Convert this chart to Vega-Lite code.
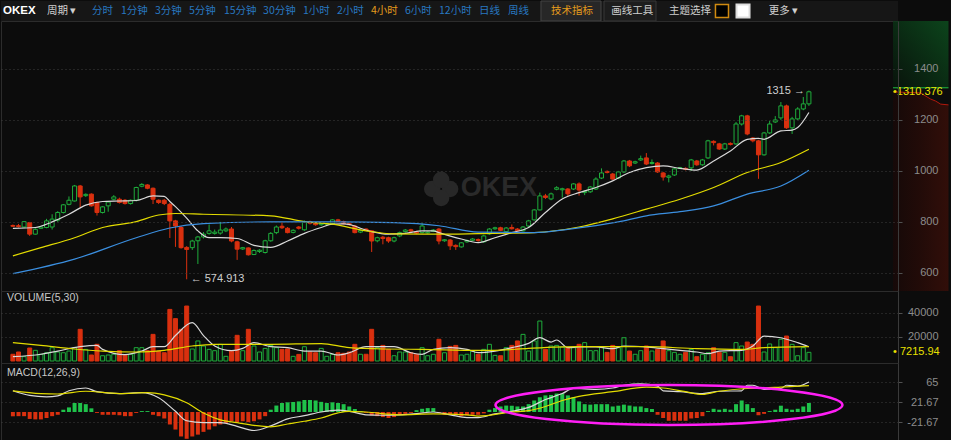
{
"$schema":"https://vega.github.io/schema/vega-lite/v6.json",
"background":"#0c0c0c",
"padding":0,
"spacing":0,
"bounds":"flush",
"config":{
 "view":{"stroke":"#2c2c2c"},
 "axisY":{"labelAlign":"right","labelPadding":36,"tickSize":4,"tickColor":"#505050","domainColor":"#3a3a3a","labelColor":"#8c8c8c","labelFontSize":11,"labelFont":"Liberation Sans","grid":true,"gridColor":"#3e3e3e","gridDash":[1,3],"labelBaseline":"middle"},
 "text":{"font":"Liberation Sans"},
 "line":{"strokeWidth":1.2,"interpolate":"monotone"}
},
"datasets":{
"k":[
{"i":0,"o":786,"h":790,"l":780,"c":783,"v":5600,"m":-9.3},
{"i":1,"o":785,"h":792,"l":778,"c":782,"v":7500,"m":-9},
{"i":2,"o":780,"h":803,"l":778,"c":801,"v":3600,"m":-9},
{"i":3,"o":797,"h":800,"l":745,"c":752,"v":10800,"m":-15},
{"i":4,"o":752,"h":775,"l":750,"c":771,"v":8900,"m":-16},
{"i":5,"o":775,"h":784,"l":772,"c":780,"v":5600,"m":-16},
{"i":6,"o":778,"h":812,"l":775,"c":804,"v":6900,"m":-13},
{"i":7,"o":780,"h":830,"l":770,"c":811,"v":11100,"m":-9},
{"i":8,"o":807,"h":842,"l":800,"c":837,"v":7500,"m":-6},
{"i":9,"o":837,"h":870,"l":833,"c":867,"v":6900,"m":5},
{"i":10,"o":869,"h":900,"l":865,"c":885,"v":8300,"m":10},
{"i":11,"o":882,"h":945,"l":880,"c":941,"v":11100,"m":19.5},
{"i":12,"o":941,"h":945,"l":857,"c":898,"v":26400,"m":19.5},
{"i":13,"o":903,"h":912,"l":898,"c":908,"v":9700,"m":17},
{"i":14,"o":909,"h":912,"l":860,"c":863,"v":5000,"m":8},
{"i":15,"o":876,"h":880,"l":825,"c":837,"v":13900,"m":-2},
{"i":16,"o":837,"h":862,"l":833,"c":859,"v":4400,"m":-6},
{"i":17,"o":863,"h":882,"l":840,"c":878,"v":5000,"m":-6},
{"i":18,"o":889,"h":905,"l":885,"c":898,"v":5600,"m":-6},
{"i":19,"o":889,"h":895,"l":872,"c":876,"v":8600,"m":-7},
{"i":20,"o":885,"h":890,"l":868,"c":872,"v":5000,"m":-9},
{"i":21,"o":872,"h":888,"l":868,"c":885,"v":5600,"m":-9},
{"i":22,"o":885,"h":938,"l":880,"c":935,"v":11100,"m":-2},
{"i":23,"o":940,"h":952,"l":936,"c":947,"v":11100,"m":2},
{"i":24,"o":945,"h":948,"l":928,"c":932,"v":8600,"m":2},
{"i":25,"o":932,"h":935,"l":870,"c":889,"v":22200,"m":-6},
{"i":26,"o":885,"h":888,"l":870,"c":876,"v":8300,"m":-9},
{"i":27,"o":885,"h":890,"l":866,"c":872,"v":6900,"m":-14},
{"i":28,"o":869,"h":875,"l":737,"c":804,"v":43000,"m":-27},
{"i":29,"o":804,"h":808,"l":702,"c":784,"v":35300,"m":-38},
{"i":30,"o":778,"h":784,"l":695,"c":699,"v":26400,"m":-53},
{"i":31,"o":700,"h":705,"l":574.913,"c":692,"v":45800,"m":-58},
{"i":32,"o":699,"h":730,"l":690,"c":725,"v":10000,"m":-53},
{"i":33,"o":726,"h":745,"l":635,"c":741,"v":16700,"m":-49},
{"i":34,"o":741,"h":760,"l":735,"c":752,"v":12500,"m":-43},
{"i":35,"o":755,"h":790,"l":750,"c":765,"v":9700,"m":-38},
{"i":36,"o":755,"h":770,"l":750,"c":760,"v":8600,"m":-31},
{"i":37,"o":756,"h":800,"l":750,"c":768,"v":13900,"m":-27},
{"i":38,"o":765,"h":778,"l":760,"c":772,"v":3900,"m":-24},
{"i":39,"o":772,"h":780,"l":720,"c":725,"v":8300,"m":-20},
{"i":40,"o":722,"h":726,"l":651,"c":693,"v":21400,"m":-22},
{"i":41,"o":694,"h":702,"l":690,"c":699,"v":8600,"m":-20},
{"i":42,"o":698,"h":700,"l":668,"c":671,"v":26400,"m":-22},
{"i":43,"o":672,"h":692,"l":670,"c":688,"v":12500,"m":-20},
{"i":44,"o":684,"h":693,"l":678,"c":689,"v":7500,"m":-16},
{"i":45,"o":680,"h":730,"l":676,"c":726,"v":10500,"m":-9},
{"i":46,"o":726,"h":760,"l":722,"c":755,"v":13000,"m":5},
{"i":47,"o":758,"h":786,"l":752,"c":780,"v":11100,"m":14},
{"i":48,"o":783,"h":800,"l":772,"c":777,"v":9700,"m":19.5},
{"i":49,"o":775,"h":780,"l":755,"c":758,"v":10000,"m":21},
{"i":50,"o":759,"h":771,"l":755,"c":767,"v":3900,"m":21.7},
{"i":51,"o":780,"h":784,"l":770,"c":775,"v":5500,"m":23},
{"i":52,"o":769,"h":806,"l":765,"c":801,"v":11900,"m":26},
{"i":53,"o":800,"h":805,"l":790,"c":795,"v":7500,"m":26},
{"i":54,"o":794,"h":797,"l":785,"c":789,"v":6900,"m":25},
{"i":55,"o":789,"h":797,"l":785,"c":793,"v":10500,"m":22},
{"i":56,"o":791,"h":797,"l":788,"c":794,"v":3900,"m":19.5},
{"i":57,"o":793,"h":811,"l":790,"c":808,"v":5600,"m":21},
{"i":58,"o":808,"h":812,"l":800,"c":803,"v":6900,"m":19.5},
{"i":59,"o":801,"h":805,"l":790,"c":793,"v":6400,"m":17},
{"i":60,"o":793,"h":796,"l":786,"c":789,"v":7500,"m":12},
{"i":61,"o":784,"h":788,"l":755,"c":758,"v":13900,"m":6.5},
{"i":62,"o":760,"h":770,"l":756,"c":766,"v":5600,"m":2},
{"i":63,"o":772,"h":775,"l":765,"c":768,"v":5600,"m":-2},
{"i":64,"o":765,"h":768,"l":682,"c":725,"v":26400,"m":-7},
{"i":65,"o":726,"h":742,"l":720,"c":738,"v":11100,"m":-9},
{"i":66,"o":740,"h":745,"l":712,"c":735,"v":13000,"m":-11},
{"i":67,"o":738,"h":742,"l":718,"c":725,"v":9700,"m":-13},
{"i":68,"o":725,"h":742,"l":720,"c":738,"v":4400,"m":-11},
{"i":69,"o":745,"h":762,"l":740,"c":758,"v":7500,"m":-6},
{"i":70,"o":762,"h":772,"l":758,"c":768,"v":7500,"m":-4},
{"i":71,"o":769,"h":773,"l":760,"c":764,"v":6900,"m":-2},
{"i":72,"o":761,"h":765,"l":752,"c":756,"v":5600,"m":4},
{"i":73,"o":758,"h":795,"l":755,"c":784,"v":11100,"m":7},
{"i":74,"o":757,"h":763,"l":754,"c":760,"v":4400,"m":8.5},
{"i":75,"o":763,"h":772,"l":760,"c":768,"v":5600,"m":8.5},
{"i":76,"o":772,"h":776,"l":712,"c":725,"v":18100,"m":-2},
{"i":77,"o":726,"h":733,"l":722,"c":730,"v":6900,"m":-6},
{"i":78,"o":729,"h":733,"l":690,"c":706,"v":12200,"m":-6},
{"i":79,"o":708,"h":712,"l":690,"c":703,"v":13000,"m":-7},
{"i":80,"o":702,"h":721,"l":699,"c":718,"v":5000,"m":-9},
{"i":81,"o":722,"h":731,"l":718,"c":727,"v":5600,"m":-7},
{"i":82,"o":728,"h":737,"l":725,"c":733,"v":8300,"m":-6},
{"i":83,"o":731,"h":735,"l":722,"c":727,"v":5600,"m":-6},
{"i":84,"o":722,"h":750,"l":718,"c":745,"v":9700,"m":-3},
{"i":85,"o":753,"h":776,"l":749,"c":772,"v":13900,"m":5},
{"i":86,"o":773,"h":781,"l":769,"c":777,"v":4700,"m":8.5},
{"i":87,"o":777,"h":781,"l":764,"c":767,"v":4400,"m":12},
{"i":88,"o":762,"h":780,"l":755,"c":776,"v":11100,"m":14},
{"i":89,"o":778,"h":790,"l":770,"c":773,"v":13000,"m":13.7},
{"i":90,"o":772,"h":776,"l":762,"c":765,"v":16700,"m":12},
{"i":91,"o":765,"h":784,"l":762,"c":780,"v":22200,"m":12},
{"i":92,"o":784,"h":808,"l":780,"c":804,"v":8300,"m":17},
{"i":93,"o":808,"h":850,"l":805,"c":847,"v":16700,"m":25},
{"i":94,"o":847,"h":915,"l":845,"c":902,"v":33300,"m":32},
{"i":95,"o":902,"h":910,"l":890,"c":896,"v":9700,"m":36},
{"i":96,"o":890,"h":915,"l":885,"c":910,"v":12500,"m":37},
{"i":97,"o":928,"h":940,"l":924,"c":934,"v":13000,"m":40},
{"i":98,"o":926,"h":934,"l":895,"c":930,"v":11700,"m":40},
{"i":99,"o":929,"h":933,"l":900,"c":910,"v":11100,"m":36},
{"i":100,"o":929,"h":952,"l":925,"c":949,"v":11100,"m":32},
{"i":101,"o":949,"h":955,"l":903,"c":925,"v":13900,"m":23},
{"i":102,"o":915,"h":924,"l":905,"c":920,"v":15300,"m":17},
{"i":103,"o":918,"h":941,"l":914,"c":937,"v":8600,"m":16},
{"i":104,"o":929,"h":975,"l":925,"c":968,"v":8600,"m":17},
{"i":105,"o":972,"h":1010,"l":968,"c":992,"v":11400,"m":17},
{"i":106,"o":998,"h":1002,"l":990,"c":994,"v":7200,"m":17},
{"i":107,"o":988,"h":992,"l":965,"c":968,"v":13000,"m":12},
{"i":108,"o":972,"h":1000,"l":968,"c":996,"v":11100,"m":13.7},
{"i":109,"o":996,"h":1043,"l":992,"c":1039,"v":19400,"m":16},
{"i":110,"o":1039,"h":1043,"l":1015,"c":1020,"v":8300,"m":14},
{"i":111,"o":1031,"h":1040,"l":1027,"c":1036,"v":5600,"m":12},
{"i":112,"o":1043,"h":1060,"l":1039,"c":1048,"v":8600,"m":12},
{"i":113,"o":1051,"h":1070,"l":1023,"c":1027,"v":12500,"m":8.5},
{"i":114,"o":1029,"h":1045,"l":1025,"c":1033,"v":8300,"m":6.5},
{"i":115,"o":1031,"h":1035,"l":992,"c":996,"v":9700,"m":-6},
{"i":116,"o":992,"h":996,"l":962,"c":976,"v":16700,"m":-13},
{"i":117,"o":975,"h":985,"l":955,"c":980,"v":8600,"m":-19},
{"i":118,"o":984,"h":1012,"l":980,"c":1008,"v":7200,"m":-19},
{"i":119,"o":1010,"h":1016,"l":1007,"c":1013,"v":5600,"m":-19},
{"i":120,"o":1010,"h":1014,"l":1002,"c":1006,"v":7200,"m":-19},
{"i":121,"o":1012,"h":1047,"l":1000,"c":1043,"v":9700,"m":-14},
{"i":122,"o":1039,"h":1043,"l":1020,"c":1024,"v":3600,"m":-13},
{"i":123,"o":1024,"h":1047,"l":1020,"c":1043,"v":5600,"m":-9},
{"i":124,"o":1051,"h":1122,"l":1047,"c":1118,"v":6900,"m":2},
{"i":125,"o":1116,"h":1120,"l":1100,"c":1111,"v":11100,"m":7},
{"i":126,"o":1106,"h":1110,"l":1082,"c":1086,"v":7200,"m":5},
{"i":127,"o":1086,"h":1110,"l":1082,"c":1106,"v":7200,"m":7},
{"i":128,"o":1108,"h":1112,"l":1100,"c":1104,"v":3600,"m":5},
{"i":129,"o":1106,"h":1192,"l":1102,"c":1184,"v":15300,"m":17},
{"i":130,"o":1184,"h":1220,"l":1178,"c":1216,"v":12500,"m":25},
{"i":131,"o":1216,"h":1220,"l":1140,"c":1145,"v":15800,"m":17},
{"i":132,"o":1129,"h":1133,"l":1112,"c":1118,"v":13900,"m":8.5},
{"i":133,"o":1118,"h":1122,"l":969,"c":1063,"v":45800,"m":-7},
{"i":134,"o":1063,"h":1153,"l":1060,"c":1149,"v":7500,"m":-4},
{"i":135,"o":1149,"h":1196,"l":1145,"c":1184,"v":14200,"m":2},
{"i":136,"o":1192,"h":1215,"l":1188,"c":1200,"v":11100,"m":5},
{"i":137,"o":1208,"h":1270,"l":1200,"c":1255,"v":18100,"m":13.7},
{"i":138,"o":1255,"h":1260,"l":1165,"c":1169,"v":20800,"m":7},
{"i":139,"o":1169,"h":1212,"l":1145,"c":1204,"v":13900,"m":5},
{"i":140,"o":1204,"h":1250,"l":1200,"c":1243,"v":4400,"m":7},
{"i":141,"o":1243,"h":1290,"l":1238,"c":1263,"v":11100,"m":12},
{"i":142,"o":1263,"h":1315,"l":1255,"c":1310.376,"v":7215.94,"m":19.5}
],
"ma":[
{"i":0,"s":"w","p":775},{"i":4,"s":"w","p":778},{"i":7,"s":"w","p":800},{"i":10,"s":"w","p":830},{"i":13,"s":"w","p":866},{"i":16,"s":"w","p":880},{"i":19,"s":"w","p":882},{"i":22,"s":"w","p":884},{"i":25,"s":"w","p":902},{"i":27,"s":"w","p":900},{"i":28,"s":"w","p":880},{"i":29,"s":"w","p":860},{"i":31,"s":"w","p":815},{"i":33,"s":"w","p":765},{"i":35,"s":"w","p":738},{"i":37,"s":"w","p":738},{"i":40,"s":"w","p":735},{"i":43,"s":"w","p":708},{"i":46,"s":"w","p":700},{"i":49,"s":"w","p":725},{"i":52,"s":"w","p":755},{"i":55,"s":"w","p":778},{"i":57,"s":"w","p":791},{"i":59,"s":"w","p":792},{"i":61,"s":"w","p":784},{"i":62,"s":"w","p":775},{"i":64,"s":"w","p":762},{"i":67,"s":"w","p":752},{"i":70,"s":"w","p":755},{"i":73,"s":"w","p":765},{"i":75,"s":"w","p":765},{"i":76,"s":"w","p":758},{"i":80,"s":"w","p":733},{"i":83,"s":"w","p":719},{"i":86,"s":"w","p":738},{"i":89,"s":"w","p":758},{"i":92,"s":"w","p":778},{"i":95,"s":"w","p":837},{"i":98,"s":"w","p":890},{"i":101,"s":"w","p":915},{"i":104,"s":"w","p":935},{"i":107,"s":"w","p":961},{"i":110,"s":"w","p":994},{"i":113,"s":"w","p":1013},{"i":116,"s":"w","p":1020},{"i":119,"s":"w","p":1010},{"i":122,"s":"w","p":1003},{"i":125,"s":"w","p":1039},{"i":128,"s":"w","p":1078},{"i":131,"s":"w","p":1124},{"i":133,"s":"w","p":1128},{"i":134,"s":"w","p":1124},{"i":137,"s":"w","p":1157},{"i":139,"s":"w","p":1160},{"i":140,"s":"w","p":1170},{"i":142,"s":"w","p":1229},
{"i":0,"s":"y","p":667},{"i":5,"s":"y","p":699},{"i":11,"s":"y","p":738},{"i":16,"s":"y","p":778},{"i":22,"s":"y","p":801},{"i":26,"s":"y","p":827},{"i":29,"s":"y","p":833},{"i":34,"s":"y","p":830},{"i":46,"s":"y","p":824},{"i":52,"s":"y","p":801},{"i":57,"s":"y","p":791},{"i":63,"s":"y","p":765},{"i":68,"s":"y","p":753},{"i":76,"s":"y","p":752},{"i":83,"s":"y","p":754},{"i":93,"s":"y","p":758},{"i":101,"s":"y","p":780},{"i":107,"s":"y","p":812},{"i":113,"s":"y","p":850},{"i":119,"s":"y","p":889},{"i":125,"s":"y","p":935},{"i":131,"s":"y","p":994},{"i":137,"s":"y","p":1033},{"i":142,"s":"y","p":1085},
{"i":0,"s":"b","p":597},{"i":11,"s":"b","p":654},{"i":22,"s":"b","p":738},{"i":28,"s":"b","p":776},{"i":34,"s":"b","p":793},{"i":46,"s":"b","p":800},{"i":57,"s":"b","p":800},{"i":68,"s":"b","p":797},{"i":76,"s":"b","p":785},{"i":83,"s":"b","p":760},{"i":93,"s":"b","p":758},{"i":99,"s":"b","p":771},{"i":108,"s":"b","p":800},{"i":113,"s":"b","p":824},{"i":119,"s":"b","p":840},{"i":125,"s":"b","p":863},{"i":131,"s":"b","p":909},{"i":137,"s":"b","p":941},{"i":142,"s":"b","p":1003}
],
"vma":[
{"i":0,"s":"w","v":3600},{"i":5,"s":"w","v":5600},{"i":8,"s":"w","v":8300},{"i":12,"s":"w","v":11900},{"i":15,"s":"w","v":13000},{"i":16,"s":"w","v":9700},{"i":20,"s":"w","v":5300},{"i":23,"s":"w","v":8300},{"i":25,"s":"w","v":11900},{"i":27,"s":"w","v":11900},{"i":29,"s":"w","v":21200},{"i":32,"s":"w","v":31900},{"i":34,"s":"w","v":21200},{"i":36,"s":"w","v":12500},{"i":39,"s":"w","v":8600},{"i":41,"s":"w","v":10500},{"i":43,"s":"w","v":15300},{"i":46,"s":"w","v":11900},{"i":49,"s":"w","v":11100},{"i":52,"s":"w","v":8300},{"i":55,"s":"w","v":8300},{"i":58,"s":"w","v":5000},{"i":60,"s":"w","v":6900},{"i":63,"s":"w","v":11900},{"i":68,"s":"w","v":11900},{"i":71,"s":"w","v":6900},{"i":73,"s":"w","v":5600},{"i":75,"s":"w","v":9700},{"i":78,"s":"w","v":11100},{"i":81,"s":"w","v":9700},{"i":83,"s":"w","v":6900},{"i":86,"s":"w","v":8300},{"i":89,"s":"w","v":11100},{"i":92,"s":"w","v":14700},{"i":94,"s":"w","v":19400},{"i":96,"s":"w","v":15800},{"i":97,"s":"w","v":17500},{"i":99,"s":"w","v":11100},{"i":101,"s":"w","v":11700},{"i":104,"s":"w","v":11700},{"i":107,"s":"w","v":10300},{"i":109,"s":"w","v":12500},{"i":113,"s":"w","v":11700},{"i":116,"s":"w","v":10300},{"i":119,"s":"w","v":8900},{"i":122,"s":"w","v":7500},{"i":124,"s":"w","v":6100},{"i":126,"s":"w","v":8300},{"i":130,"s":"w","v":8900},{"i":132,"s":"w","v":12500},{"i":134,"s":"w","v":20800},{"i":137,"s":"w","v":19400},{"i":140,"s":"w","v":15300},{"i":142,"s":"w","v":11900},
{"i":0,"s":"y","v":15300},{"i":5,"s":"y","v":13000},{"i":11,"s":"y","v":10000},{"i":16,"s":"y","v":8300},{"i":22,"s":"y","v":7500},{"i":27,"s":"y","v":8900},{"i":32,"s":"y","v":12500},{"i":36,"s":"y","v":13900},{"i":46,"s":"y","v":13900},{"i":55,"s":"y","v":14500},{"i":60,"s":"y","v":11100},{"i":66,"s":"y","v":10000},{"i":73,"s":"y","v":9700},{"i":83,"s":"y","v":8900},{"i":86,"s":"y","v":8900},{"i":92,"s":"y","v":10500},{"i":101,"s":"y","v":11900},{"i":113,"s":"y","v":11900},{"i":122,"s":"y","v":10300},{"i":130,"s":"y","v":9700},{"i":134,"s":"y","v":11100},{"i":142,"s":"y","v":11900}
],
"md":[
{"i":0,"s":"w","v":46},{"i":3,"s":"w","v":36},{"i":6,"s":"w","v":33},{"i":8,"s":"w","v":35},{"i":10,"s":"w","v":46},{"i":13,"s":"w","v":52},{"i":15,"s":"w","v":44},{"i":19,"s":"w","v":40},{"i":23,"s":"w","v":42},{"i":26,"s":"w","v":31},{"i":29,"s":"w","v":1.5},{"i":31,"s":"w","v":-19},{"i":34,"s":"w","v":-23},{"i":37,"s":"w","v":-23},{"i":40,"s":"w","v":-31},{"i":43,"s":"w","v":-40},{"i":46,"s":"w","v":-30},{"i":49,"s":"w","v":-15},{"i":52,"s":"w","v":-8},{"i":55,"s":"w","v":0},{"i":58,"s":"w","v":4},{"i":60,"s":"w","v":1.5},{"i":63,"s":"w","v":-6},{"i":66,"s":"w","v":-7},{"i":69,"s":"w","v":-6},{"i":72,"s":"w","v":-3.6},{"i":75,"s":"w","v":0},{"i":78,"s":"w","v":-6},{"i":81,"s":"w","v":-12},{"i":83,"s":"w","v":-12},{"i":86,"s":"w","v":-4},{"i":89,"s":"w","v":1.5},{"i":92,"s":"w","v":10},{"i":95,"s":"w","v":27},{"i":98,"s":"w","v":40},{"i":100,"s":"w","v":51},{"i":104,"s":"w","v":49},{"i":107,"s":"w","v":52},{"i":109,"s":"w","v":58},{"i":112,"s":"w","v":61},{"i":115,"s":"w","v":56},{"i":116,"s":"w","v":46},{"i":119,"s":"w","v":44},{"i":123,"s":"w","v":40},{"i":126,"s":"w","v":45},{"i":130,"s":"w","v":46},{"i":131,"s":"w","v":58},{"i":132,"s":"w","v":58},{"i":134,"s":"w","v":49},{"i":137,"s":"w","v":51},{"i":138,"s":"w","v":58},{"i":140,"s":"w","v":56},{"i":142,"s":"w","v":65},
{"i":0,"s":"y","v":46},{"i":5,"s":"y","v":40},{"i":8,"s":"y","v":39},{"i":13,"s":"y","v":45},{"i":19,"s":"y","v":40},{"i":24,"s":"y","v":42},{"i":27,"s":"y","v":37},{"i":31,"s":"y","v":20},{"i":34,"s":"y","v":-2},{"i":37,"s":"y","v":-17},{"i":40,"s":"y","v":-23},{"i":43,"s":"y","v":-29},{"i":46,"s":"y","v":-32},{"i":49,"s":"y","v":-26},{"i":52,"s":"y","v":-20},{"i":55,"s":"y","v":-13},{"i":58,"s":"y","v":-2},{"i":60,"s":"y","v":1.5},{"i":63,"s":"y","v":0},{"i":69,"s":"y","v":-6},{"i":75,"s":"y","v":-4},{"i":81,"s":"y","v":-6},{"i":83,"s":"y","v":-9},{"i":89,"s":"y","v":0},{"i":92,"s":"y","v":3},{"i":95,"s":"y","v":12},{"i":98,"s":"y","v":25},{"i":101,"s":"y","v":34},{"i":107,"s":"y","v":44},{"i":113,"s":"y","v":54},{"i":116,"s":"y","v":52},{"i":120,"s":"y","v":44},{"i":123,"s":"y","v":38},{"i":126,"s":"y","v":45},{"i":131,"s":"y","v":51},{"i":134,"s":"y","v":52},{"i":137,"s":"y","v":54},{"i":142,"s":"y","v":57}
],
"tb":[
{"t":"周期 ▾","s":6.88,"k":"menu"},
{"t":"分时","s":14.82,"k":"iv"},
{"t":"1分钟","s":19.94,"k":"iv"},
{"t":"3分钟","s":25.93,"k":"iv"},
{"t":"5分钟","s":31.93,"k":"iv"},
{"t":"15分钟","s":38.1,"k":"iv"},
{"t":"30分钟","s":45.0,"k":"iv"},
{"t":"1小时","s":52.04,"k":"iv"},
{"t":"2小时","s":58.04,"k":"iv"},
{"t":"4小时","s":64.04,"k":"on"},
{"t":"6小时","s":70.04,"k":"iv"},
{"t":"12小时","s":76.03,"k":"iv"},
{"t":"日线","s":83.09,"k":"iv"},
{"t":"周线","s":88.2,"k":"iv"},
{"t":"技术指标","s":95.8,"k":"on"},
{"t":"画线工具","s":106.4,"k":"menu"},
{"t":"主题选择","s":116.6,"k":"menu"},
{"t":"更多 ▾","s":134.2,"k":"menu"}
]
},
"vconcat":[
{
 "width":897,"height":20,
 "view":{"stroke":null,"fill":"#161616"},
 "layer":[
  {"data":{"values":[{}]},"mark":{"type":"rect","fill":"#272727","stroke":"#444444"},"encoding":{"x":{"datum":94.02,"type":"quantitative","scale":{"domain":[-1.23,157],"nice":false,"zero":false},"axis":null},"x2":{"datum":104.61}}},
  {"data":{"values":[{}]},"mark":{"type":"rect","fill":"#1d1d1d","stroke":"#383838"},"encoding":{"x":{"datum":105.14,"type":"quantitative","axis":null},"x2":{"datum":114.31}}},
  {"data":{"values":[{}]},"mark":{"type":"point","shape":"square","size":170,"filled":true,"fill":"#000000","stroke":"#d08a10","strokeWidth":1.5,"opacity":1},"encoding":{"x":{"datum":125.95,"type":"quantitative","axis":null}}},
  {"data":{"values":[{}]},"mark":{"type":"point","shape":"square","size":170,"filled":true,"fill":"#ffffff","stroke":"#dddddd","opacity":1},"encoding":{"x":{"datum":129.66,"type":"quantitative","axis":null}}},
  {"data":{"values":[{}]},"mark":{"type":"text","text":"OKEX","align":"left","baseline":"middle","fontWeight":"bold","fontSize":11.5,"fill":"#ffffff"},"encoding":{"x":{"datum":-0.88,"type":"quantitative","axis":null}}},
  {"data":{"name":"tb"},"mark":{"type":"text","align":"left","baseline":"middle","fontSize":10.5,"font":"Noto Sans CJK SC"},"encoding":{"x":{"field":"s","type":"quantitative","axis":null},"text":{"field":"t"},"fill":{"field":"k","type":"nominal","scale":{"domain":["menu","iv","on"],"range":["#cfcfcf","#2878c0","#e49b1c"]},"legend":null}}}
 ]
},
{
 "width":897,"height":270,
 "layer":[
  {"data":{"values":[{"i":74.8,"p":929},{"i":78.0,"p":929},{"i":76.4,"p":965},{"i":76.4,"p":894}]},"mark":{"type":"point","shape":"circle","filled":true,"size":270,"fill":"#282828","opacity":1},"encoding":{"x":{"field":"i","type":"quantitative","scale":{"domain":[-1.23,157],"nice":false,"zero":false},"axis":null},"y":{"field":"p","type":"quantitative","scale":{"domain":[529,1588],"nice":false,"zero":false},"axis":{"orient":"right","values":[600,800,1000,1200,1400],"format":"d","title":null,"zindex":1}}}},
  {"data":{"values":[{}]},"mark":{"type":"text","text":"OKEX","align":"left","baseline":"middle","fontSize":27,"fontWeight":"bold","fill":"#2a2a2a"},"encoding":{"x":{"datum":79.9,"type":"quantitative","axis":null},"y":{"datum":933,"type":"quantitative","axis":{"orient":"right","values":[600,800,1000,1200,1400],"format":"d","title":null,"zindex":1}}}},
  {"data":{"values":[{"i":157,"p":1326},{"i":166.9,"p":1326}]},"mark":{"type":"area","interpolate":"linear","fill":{"gradient":"linear","x1":0,"y1":1,"x2":1,"y2":0,"stops":[{"offset":0,"color":"#07160b"},{"offset":1,"color":"#0c5c22"}]},"line":{"color":"#1fbf45","strokeWidth":1}},"encoding":{"x":{"field":"i","type":"quantitative","axis":null},"y":{"field":"p","type":"quantitative","axis":{"orient":"right","values":[600,800,1000,1200,1400],"format":"d","title":null,"zindex":1}},"y2":{"datum":1588}}},
  {"data":{"values":[{"i":157,"p":1310},{"i":161.9,"p":1306},{"i":163.7,"p":1282},{"i":164.6,"p":1274},{"i":165.5,"p":1262},{"i":166.9,"p":1259}]},"mark":{"type":"area","interpolate":"linear","fill":{"gradient":"linear","x1":0,"y1":0,"x2":1,"y2":0,"stops":[{"offset":0,"color":"#1a0807"},{"offset":0.5,"color":"#2c0b07"},{"offset":1,"color":"#420f08"}]},"line":{"color":"#b0180c","strokeWidth":1}},"encoding":{"x":{"field":"i","type":"quantitative","axis":null},"y":{"field":"p","type":"quantitative","axis":{"orient":"right","values":[600,800,1000,1200,1400],"format":"d","title":null,"zindex":1}},"y2":{"datum":529}}},
  {"data":{"name":"k"},"mark":{"type":"rule","strokeWidth":1},"encoding":{"x":{"field":"i","type":"quantitative","axis":null},"y":{"field":"l","type":"quantitative","axis":{"orient":"right","values":[600,800,1000,1200,1400],"format":"d","title":null,"zindex":1}},"y2":{"field":"h"},"stroke":{"condition":{"test":"datum.c < datum.o","value":"#d9300f"},"value":"#1fae3c"}}},
  {"data":{"name":"k"},"mark":{"type":"bar","width":4,"strokeWidth":1},"encoding":{"x":{"field":"i","type":"quantitative","axis":null},"y":{"field":"o","type":"quantitative","axis":{"orient":"right","values":[600,800,1000,1200,1400],"format":"d","title":null,"zindex":1}},"y2":{"field":"c"},"fill":{"condition":{"test":"datum.c < datum.o","value":"#d9300f"},"value":"#0c0c0c"},"stroke":{"condition":{"test":"datum.c < datum.o","value":"#d9300f"},"value":"#1fae3c"}}},
  {"data":{"name":"ma"},"mark":{"type":"line"},"encoding":{"x":{"field":"i","type":"quantitative","axis":null},"y":{"field":"p","type":"quantitative","axis":{"orient":"right","values":[600,800,1000,1200,1400],"format":"d","title":null,"zindex":1}},"color":{"field":"s","type":"nominal","scale":{"domain":["w","y","b"],"range":["#d9d9d9","#e3dc00","#3b8fe0"]},"legend":null}}},
  {"data":{"values":[{}]},"mark":{"type":"text","text":"1315 →","align":"right","baseline":"middle","dx":-4,"fontSize":11,"fill":"#cfcfcf"},"encoding":{"x":{"datum":142,"type":"quantitative","axis":null},"y":{"datum":1315,"type":"quantitative","axis":{"orient":"right","values":[600,800,1000,1200,1400],"format":"d","title":null,"zindex":1}}}},
  {"data":{"values":[{}]},"mark":{"type":"text","text":"← 574.913","align":"left","baseline":"middle","dx":4,"fontSize":11,"fill":"#cfcfcf"},"encoding":{"x":{"datum":31,"type":"quantitative","axis":null},"y":{"datum":574.913,"type":"quantitative","axis":{"orient":"right","values":[600,800,1000,1200,1400],"format":"d","title":null,"zindex":1}}}},
  {"data":{"values":[{}]},"mark":{"type":"text","text":"•1310.376","align":"left","baseline":"middle","fontSize":11,"fill":"#e8e000"},"encoding":{"x":{"datum":157,"type":"quantitative","axis":null},"y":{"datum":1310.376,"type":"quantitative","axis":{"orient":"right","values":[600,800,1000,1200,1400],"format":"d","title":null,"zindex":1}}}}
 ]
},
{
 "width":897,"height":72,
 "layer":[
  {"data":{"name":"k"},"mark":{"type":"bar","width":4,"strokeWidth":1},"encoding":{"x":{"field":"i","type":"quantitative","scale":{"domain":[-1.23,157],"nice":false,"zero":false},"axis":null},"y":{"field":"v","type":"quantitative","scale":{"domain":[-1667,58333],"nice":false,"zero":false},"axis":{"orient":"right","values":[20000,40000],"format":"d","title":null}},"y2":{"datum":0},"fill":{"condition":{"test":"datum.c < datum.o","value":"#d9300f"},"value":"#0c0c0c"},"stroke":{"condition":{"test":"datum.c < datum.o","value":"#d9300f"},"value":"#1fae3c"}}},
  {"data":{"name":"vma"},"mark":{"type":"line"},"encoding":{"x":{"field":"i","type":"quantitative","axis":null},"y":{"field":"v","type":"quantitative","axis":{"orient":"right","values":[20000,40000],"format":"d","title":null}},"color":{"field":"s","type":"nominal","scale":{"domain":["w","y","b"],"range":["#d9d9d9","#e3dc00","#3b8fe0"]},"legend":null}}},
  {"data":{"values":[{}]},"mark":{"type":"text","text":"VOLUME(5,30)","align":"left","baseline":"middle","fontSize":10.5,"fill":"#c8c8c8"},"encoding":{"x":{"datum":-1.05,"type":"quantitative","axis":null},"y":{"datum":52500,"type":"quantitative","axis":{"orient":"right","values":[20000,40000],"format":"d","title":null}}}},
  {"data":{"values":[{}]},"mark":{"type":"text","text":"• 7215.94","align":"left","baseline":"middle","fontSize":11,"fill":"#e8e000"},"encoding":{"x":{"datum":157,"type":"quantitative","axis":null},"y":{"datum":7215.94,"type":"quantitative","axis":{"orient":"right","values":[20000,40000],"format":"d","title":null}}}}
 ]
},
{
 "width":897,"height":78,
 "layer":[
  {"data":{"name":"k"},"mark":{"type":"bar","width":4},"encoding":{"x":{"field":"i","type":"quantitative","scale":{"domain":[-1.23,157],"nice":false,"zero":false},"axis":null},"y":{"field":"m","type":"quantitative","scale":{"domain":[-62.8,106.2],"nice":false,"zero":false},"axis":{"orient":"right","values":[65,21.67,-21.67],"labelExpr":"'' + datum.value","title":null}},"y2":{"datum":0},"fill":{"condition":{"test":"datum.m < 0","value":"#d9300f"},"value":"#1fc24a"}}},
  {"data":{"name":"md"},"mark":{"type":"line"},"encoding":{"x":{"field":"i","type":"quantitative","axis":null},"y":{"field":"v","type":"quantitative","axis":{"orient":"right","values":[65,21.67,-21.67],"labelExpr":"'' + datum.value","title":null}},"color":{"field":"s","type":"nominal","scale":{"domain":["w","y","b"],"range":["#d9d9d9","#e3dc00","#3b8fe0"]},"legend":null}}},
  {"data":{"values":[{}]},"mark":{"type":"text","text":"MACD(12,26,9)","align":"left","baseline":"middle","fontSize":10.5,"fill":"#c8c8c8"},"encoding":{"x":{"datum":-1.05,"type":"quantitative","axis":null},"y":{"datum":84.5,"type":"quantitative","axis":{"orient":"right","values":[65,21.67,-21.67],"labelExpr":"'' + datum.value","title":null}}}},
  {"data":{"values":[{}]},"mark":{"type":"point","shape":"M-1,0A1,0.115 0 1,1 1,0A1,0.115 0 1,1 -1,0Z","size":120409,"filled":false,"stroke":"#ff1ef5","strokeWidth":2.5,"opacity":1},"encoding":{"x":{"datum":117.04,"type":"quantitative","axis":null},"y":{"datum":15.2,"type":"quantitative","axis":{"orient":"right","values":[65,21.67,-21.67],"labelExpr":"'' + datum.value","title":null}}}}
 ]
}
]
}
